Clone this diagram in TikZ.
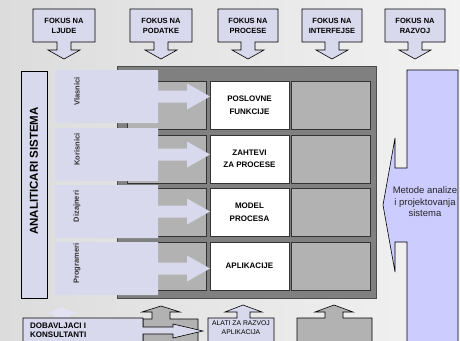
\documentclass[tikz,border=0pt]{standalone}
\usepackage{fontspec}
\setmainfont{Liberation Sans}
\usepackage{tikz}
\usetikzlibrary{positioning}
\definecolor{lav}{RGB}{217,217,237}
\definecolor{lavfaint}{RGB}{226,226,242}
\definecolor{lavdk}{RGB}{204,204,255}
\definecolor{frm}{RGB}{128,128,128}
\definecolor{cel}{RGB}{178,178,178}
\definecolor{bgl}{RGB}{220,220,220}
\definecolor{bgr}{RGB}{242,242,242}

\begin{document}
\begin{tikzpicture}[x=1pt, y=-1pt,
    lb/.style={fill=lav, draw=black, line width=0.6pt},
    gb/.style={fill=cel, draw=black, line width=0.6pt},
    cell/.style={draw=black!80, line width=0.8pt, minimum width=79pt, minimum height=48pt, inner sep=0pt},
    hd/.style={font=\bfseries\fontsize{7.5}{10}\selectfont, align=center, inner sep=0pt},
    ct/.style={font=\bfseries\fontsize{8}{12.5}\selectfont, align=center, inner sep=0pt},
    rl/.style={font=\bfseries\fontsize{7.5}{8}\selectfont, rotate=90, text=black!80, inner sep=0pt}
  ]
    \useasboundingbox (0,0) rectangle (460,340);
    \fill[left color=bgl, right color=bgr] (0,0) rectangle (460,340);
    \clip (0,0) rectangle (460,340);
    % ---- fokus callouts ----
    \foreach \a/\b/\t [count=\i] in {33/95/LJUDE, 130/192/PODATKE, 218/278/PROCESE,
        302/362/INTERFEJSE, 385/445/RAZVOJ} {
      \pgfmathsetmacro\c{(\a+\b)/2}
      \draw[lb] (\a,9) -- (\b,9) -- (\b,42) -- (\c+7,42) -- (\c+7,50) -- (\c+16,50)
        -- (\c,59) -- (\c-16,50) -- (\c-7,50) -- (\c-7,42) -- (\a,42) -- cycle;
      \node[hd] (f\i) at (\c,26) {FOKUS NA\\\t};
    }
    % ---- matrix ----
    \draw[fill=frm, draw=black!70, line width=0.8pt] (117,66) rectangle (376,298);
    \foreach \r/\t [count=\i] in {81/{POSLOVNE\\FUNKCIJE}, 135/{ZAHTEVI\\ZA PROCESE},
        188/{MODEL\\PROCESA}, 242/{APLIKACIJE}} {
      \node[cell, fill=cel] (g\i) at (166.5,\r+24) {};
      \node[cell, fill=white] (w\i) at (249.5,\r+24) {};
      \node[cell, fill=cel] (h\i) at (330.5,\r+24) {};
      \node[ct] (t\i) at (w\i) {\t};
    }
    % ---- uloge ----
    \foreach \t/\n [count=\i] in {70/Vlasnici, 128/Korisnici, 185/Dizajneri, 242/Programeri} {
      \pgfmathsetmacro\m{\t+26.5}
      \fill[lav] (55,\t) -- (158,\t) -- (158,\m-6) -- (187,\m-6) -- (187,\m-13) -- (210,\m)
        -- (187,\m+13) -- (187,\m+6) -- (158,\m+6) -- (158,\t+53) -- (55,\t+53) -- cycle;
      \node[rl] (u\i) at (77,\m-5) {\n};
    }
    \draw[lb] (21,71) rectangle (47,298);
    \node[rl, font=\bfseries\fontsize{11.5}{12}\selectfont, text=black] (an) at (34,171) {ANALITICARI SISTEMA};
    % ---- metode ----
    \draw[fill=lavdk, draw=black, line width=0.6pt] (407,345) -- (407,242) -- (395,242) -- (395,272)
      -- (383,205) -- (395,138) -- (395,168) -- (407,168) -- (407,70) -- (458,70) -- (458,345);
    \node[font=\fontsize{9.5}{11.5}\selectfont, align=center, text=black!85, inner sep=0pt] (me)
      at (425,202) {Metode analize\\i projektovanja\\sistema};
    % ---- dole ----
    \fill[lavfaint] (54,318) -- (54,314) -- (47,314) -- (62,307) -- (78,314) -- (70,314) -- (70,318) -- cycle;
    \draw[gb] (143,345) -- (143,319) -- (152,319) -- (152,312) -- (142,312) -- (161,306)
      -- (180,312) -- (170,312) -- (170,319) -- (198,319) -- (198,345);
    \draw[gb] (297,345) -- (297,318) -- (325,318) -- (325,312) -- (315,312) -- (334,305)
      -- (353,312) -- (343,312) -- (343,318) -- (372,318) -- (372,345);
    \draw[lb] (23,345) -- (23,318) -- (143,318) -- (143,327) -- (173,327) -- (173,324) -- (203,331)
      -- (173,338) -- (173,334) -- (143,334) -- (143,345);
    \node[font=\bfseries\fontsize{8}{9}\selectfont, align=left, anchor=west, inner sep=0pt] (do)
      at (30,330.5) {DOBAVLJACI I\\KONSULTANTI};
    \draw[lb] (208,345) -- (208,318) -- (237,318) -- (237,312) -- (225,312) -- (243,305)
      -- (262,312) -- (250,312) -- (250,318) -- (274,318) -- (274,345);
    \node[font=\fontsize{6.8}{8.5}\selectfont, align=center, inner sep=0pt] (al)
      at (241,327.5) {ALATI ZA RAZVOJ\\APLIKACIJA};
  \end{tikzpicture}
\end{document}
